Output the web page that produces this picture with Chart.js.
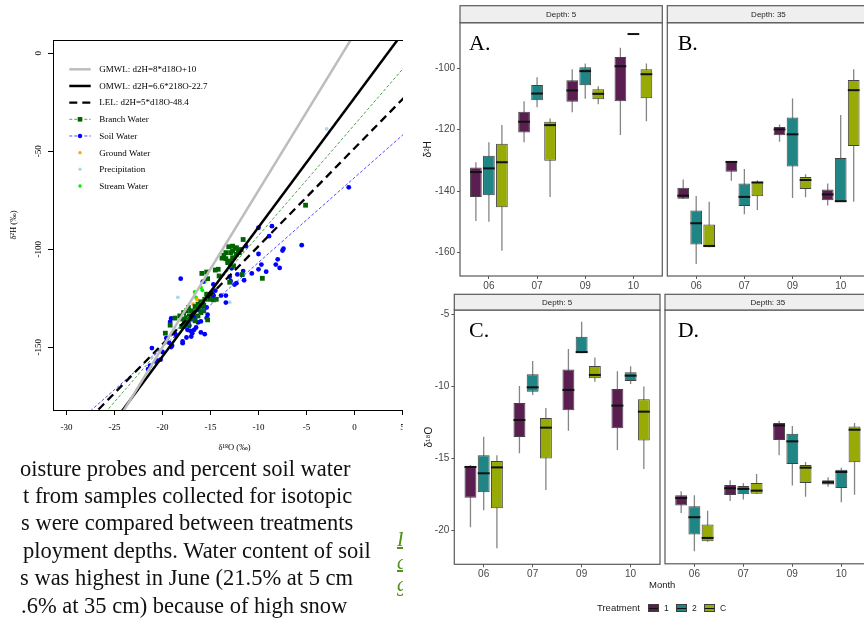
<!DOCTYPE html>
<html><head><meta charset="utf-8">
<script src="https://cdn.jsdelivr.net/npm/chart.js@4.4.1/dist/chart.umd.min.js"></script>
<style>
html,body{margin:0;padding:0;}
body{width:864px;height:618px;overflow:hidden;background:#fff;position:relative;}
.a{position:absolute;}
#scWrap{left:0;top:0;width:403px;height:460px;overflow:hidden;}
.para{font-family:"Liberation Serif","Times New Roman",serif;font-size:22.5px;line-height:22px;color:#111;white-space:pre;}
.plab{font-family:"Liberation Serif","Times New Roman",serif;font-size:22px;line-height:22px;color:#000;}
.lg{font-family:"Liberation Sans",Arial,sans-serif;font-size:9.5px;color:#1a1a1a;line-height:12px;white-space:pre;}
.key{width:11px;height:8px;border:1px solid #3f3f3f;box-sizing:border-box;}
.key i{position:absolute;left:0;right:0;top:2.5px;height:1px;background:#111;}
.grn{font-family:"Liberation Serif",serif;font-style:italic;text-decoration:underline;color:#4f8f1a;font-size:20px;line-height:20px;}
</style></head><body>

<div id="scWrap" class="a"><canvas id="sc" width="420" height="460"></canvas></div>

<div class="a para" style="left:20px;top:457.6px;">oisture probes and percent soil water</div>
<div class="a para" style="left:23px;top:484.9px;">t from samples collected for isotopic</div>
<div class="a para" style="left:21px;top:512.3px;">s were compared between treatments</div>
<div class="a para" style="left:23px;top:539.6px;">ployment depths. Water content of soil</div>
<div class="a para" style="left:20px;top:567px;">s was highest in June (21.5% at 5 cm</div>
<div class="a para" style="left:21px;top:594.5px;">.6% at 35 cm) because of high snow</div>
<div class="a" style="left:397px;top:525px;width:6px;height:75px;overflow:hidden;">
  <div class="a grn" style="left:0;top:4px;">I</div>
  <div class="a grn" style="left:0;top:27px;">c</div>
  <div class="a grn" style="left:0;top:49px;">g</div>
</div>

<canvas id="pA" class="a" style="left:420px;top:0px;" width="244" height="290"></canvas>
<canvas id="pB" class="a" style="left:664px;top:0px;" width="210" height="290"></canvas>
<canvas id="pC" class="a" style="left:420px;top:285px;" width="244" height="333"></canvas>
<canvas id="pD" class="a" style="left:662px;top:285px;" width="212" height="333"></canvas>

<div class="a plab" style="left:469px;top:31.6px;">A.</div>
<div class="a plab" style="left:677.7px;top:31.6px;">B.</div>
<div class="a plab" style="left:469px;top:319px;">C.</div>
<div class="a plab" style="left:677.7px;top:318.5px;">D.</div>

<div class="a lg" style="left:649px;top:579px;">Month</div>
<div class="a lg" style="left:597px;top:602px;">Treatment</div>
<div class="a key" style="left:648px;top:604px;background:#5b1e51;"><i></i></div>
<div class="a lg" style="left:664px;top:602px;font-size:8.5px;">1</div>
<div class="a key" style="left:676px;top:604px;background:#1f8585;"><i></i></div>
<div class="a lg" style="left:692px;top:602px;font-size:8.5px;">2</div>
<div class="a key" style="left:704px;top:604px;background:#97aa05;"><i></i></div>
<div class="a lg" style="left:720px;top:602px;font-size:8.5px;">C</div>

<script>
// ---------------- Scatter (left) data ----------------
const soilPts = [[-5.5,-97.9],[-7.5,-100.6],[-7.4,-99.7],[-8.0,-105.1],[-8.2,-107.8],[-7.8,-109.5],[-9.7,-107.8],[-10.0,-110.2],[-9.2,-111.4],[-10.7,-112.3],[-11.5,-115.8],[-10.0,-102.4],[-8.9,-93.3],[-8.6,-88.2],[-10.0,-89.0],[-11.3,-98.4],[-12.4,-99.5],[-12.5,-118.0],[-12.9,-116.2],[-12.3,-117.3],[-13.0,-114.0],[-12.8,-109.7],[-13.2,-106.5],[-13.9,-123.6],[-13.4,-123.6],[-13.4,-127.2],[-14.5,-121.1],[-14.7,-123.8],[-16.1,-127.7],[-15.8,-129.2],[-15.3,-133.4],[-15.4,-135.1],[-16.0,-136.8],[-16.3,-137.3],[-18.1,-115.0],[-19.1,-135.3],[-19.2,-137.0],[-17.8,-135.6],[-17.7,-139.4],[-17.4,-141.1],[-17.1,-141.6],[-16.9,-142.8],[-17.0,-144.5],[-17.5,-145.0],[-17.9,-147.9],[-17.9,-147.0],[-18.7,-142.9],[-18.9,-142.6],[-18.6,-144.1],[-19.6,-145.3],[-19.3,-147.7],[-19.0,-149.2],[-19.1,-149.9],[-20.0,-152.4],[-21.1,-150.4],[-20.7,-157.3],[-20.5,-156.8],[-20.2,-156.3],[-21.3,-159.4],[-16.0,-142.4],[-15.6,-143.3],[-16.7,-141.1],[-15.8,-116.5],[-14.7,-117.9],[-15.4,-129.7],[-14.7,-123.4],[-16.5,-139.9],[-17.3,-137.3],[-11.6,-111.1],[-12.2,-112.8],[-21.5,-161.1],[-16.6,-134.8],[-0.6,-68.4],[-17.2,-139.0],[-16.2,-131.0]];
const branchPts = [[-11.6,-95.0],[-13.1,-98.7],[-12.7,-98.4],[-12.3,-99.2],[-12.1,-100.4],[-12.7,-100.9],[-12.9,-101.7],[-13.4,-101.7],[-13.6,-103.1],[-13.8,-104.5],[-13.4,-104.8],[-13.0,-106.0],[-12.7,-104.3],[-12.3,-102.6],[-12.0,-101.7],[-11.8,-100.1],[-13.2,-106.8],[-12.9,-107.7],[-12.6,-108.5],[-11.7,-112.9],[-9.6,-114.8],[-13.0,-116.8],[-15.9,-112.3],[-15.4,-111.6],[-14.5,-110.6],[-14.2,-110.2],[-14.1,-113.6],[-15.3,-115.0],[-15.4,-122.9],[-15.3,-124.1],[-15.1,-125.5],[-15.6,-125.5],[-16.0,-126.8],[-15.7,-128.5],[-16.2,-129.7],[-16.5,-130.9],[-16.8,-132.3],[-17.2,-134.0],[-17.5,-134.8],[-17.0,-135.6],[-16.6,-136.5],[-16.3,-134.0],[-16.0,-132.3],[-15.7,-131.4],[-17.3,-129.7],[-18.7,-135.1],[-19.2,-138.7],[-19.7,-142.8],[-18.2,-134.0],[-17.8,-132.3],[-17.9,-135.6],[-17.7,-137.3],[-17.3,-138.7],[-18.0,-139.4],[-15.3,-136.0],[-14.7,-125.8],[-14.4,-125.5],[-5.1,-77.5],[-17.0,-131.4],[-16.6,-129.2],[-16.3,-128.0],[-17.5,-131.4],[-14.9,-122.4],[-17.5,-137.3]];
const groundPts = [[-16.4,-125.5],[-16.8,-128.0]];
const precipPts = [[-2.9,-38.5],[-18.4,-124.5],[-13.0,-127.0]];
const streamPts = [[-15.6,-116.7],[-16.0,-119.5],[-15.85,-120.9],[-16.65,-121.8],[-16.5,-124.6]];
const refLineNames = ["GMWL: d2H=8*d18O+10","OMWL: d2H=6.6*218O-22.7","LEL: d2H=5*d18O-48.4"];
const refSlopes = [8, 6.6, 5];
const refIntercepts = [10, -22.7, -48.4];
const fitNames = ["Branch Water","Soil Water"];
const fitSlopes = [5.66, 4.33];
const fitIntercepts = [-36.4, -63.4];
const pointNames = ["Branch Water","Soil Water","Ground Water","Precipitation","Stream Water"];
const scatterXTicks = [-30,-25,-20,-15,-10,-5,0,5];
const scatterYTicks = [-150,-100,-50,0];

// ---------------- Boxplot data: [min, q1, median, q3, max] per month ----------------
const months = ["06","07","09","10"];
const treatments = ["1","2","C"];
const depthLabels = ["Depth: 5","Depth: 35"];
const h2_d5_t1 = [[-149.8,-141.9,-133.8,-132.3,-130.6],[-124.1,-120.9,-117.4,-114.1,-110.7],[-114.3,-110.9,-107.2,-103.9,-100.3],[-121.7,-110.7,-99.3,-96.3,-93.3]];
const h2_d5_t2 = [[-150.0,-141.4,-132.6,-128.5,-124.1],[-112.7,-110.4,-108.2,-105.4,-102.9],[-109.9,-105.5,-100.9,-99.6,-98.4],[-88.8,-88.8,-88.8,-88.8,-88.8]];
const h2_d5_tC = [[-159.5,-145.3,-130.6,-124.6,-118.5],[-141.9,-130.1,-118.5,-117.4,-116.3],[-111.7,-110.1,-108.3,-106.8,-105.8],[-117.2,-109.7,-101.9,-100.3,-98.4]];
const h2_d35_t1 = [[-142.6,-142.5,-141.5,-138.9,-136.2],[-136.6,-133.7,-130.5,-130.2,-130.2],[-123.9,-121.8,-119.9,-119.1,-118.3],[-144.7,-143.0,-141.1,-139.5,-137.5]];
const h2_d35_t2 = [[-163.8,-157.4,-150.5,-146.3,-141.6],[-147.6,-144.9,-141.9,-137.5,-132.8],[-142.3,-132.0,-121.5,-116.0,-109.8],[-143.6,-143.6,-143.3,-129.2,-115.2]];
const h2_d35_tC = [[-158.3,-158.3,-157.9,-150.9,-143.5],[-146.2,-141.7,-137.2,-137.0,-136.5],[-142.0,-139.3,-136.4,-135.4,-134.5],[-143.5,-125.3,-107.1,-103.8,-100.3]];
const o18_d5_t1 = [[-19.79,-17.73,-15.6,-15.53,-15.46],[-14.65,-13.52,-12.34,-11.16,-9.98],[-13.08,-11.67,-10.25,-8.84,-7.41],[-14.42,-12.92,-11.34,-10.19,-8.96]];
const o18_d5_t2 = [[-18.61,-17.36,-16.04,-14.79,-13.5],[-10.6,-10.37,-10.07,-9.17,-8.24],[-7.71,-7.71,-7.62,-6.55,-5.51],[-9.84,-9.63,-9.26,-9.03,-8.61]];
const o18_d5_tC = [[-21.25,-18.47,-15.63,-15.19,-14.79],[-17.2,-15.02,-12.87,-12.2,-11.5],[-9.68,-9.44,-9.21,-8.59,-8.0],[-15.74,-13.77,-11.76,-10.9,-10.02]];
const o18_d35_t1 = [[-18.82,-18.31,-17.78,-17.59,-17.31],[-17.99,-17.57,-17.1,-16.88,-16.55],[-14.81,-13.75,-12.73,-12.57,-12.41],[-16.99,-16.85,-16.69,-16.55,-16.34]];
const o18_d35_t2 = [[-21.48,-20.32,-19.12,-18.36,-17.59],[-17.89,-17.52,-17.15,-16.94,-16.76],[-16.92,-15.42,-13.84,-13.31,-12.78],[-18.08,-17.08,-15.97,-15.81,-15.67]];
const o18_d35_tC = [[-20.83,-20.79,-20.56,-19.63,-18.66],[-17.48,-17.48,-17.27,-16.74,-16.11],[-17.69,-16.74,-15.67,-15.49,-15.28],[-17.55,-15.3,-13.03,-12.8,-12.57]];
const h2Ticks = [-160,-140,-120,-100];
const o18Ticks = [-20,-15,-10,-5];

const treatColors = ["#5b1e51","#1f8585","#97aa05"];

// ---------------- Scatter chart ----------------
const SX_MIN = -31.4, SX_MAX = 6.4;
const toXY = p => ({x: p[0], y: p[1]});
const lineData = (s, b) => [{x: SX_MIN, y: s*SX_MIN + b}, {x: SX_MAX, y: s*SX_MAX + b}];

const scDatasets = [
  {label: refLineNames[0], type:'line', data: lineData(refSlopes[0], refIntercepts[0]), borderColor:'#bdbdbd', borderWidth:2.5, pointRadius:0, fill:false},
  {label: refLineNames[1], type:'line', data: lineData(refSlopes[1], refIntercepts[1]), borderColor:'#000', borderWidth:2.5, pointRadius:0, fill:false},
  {label: refLineNames[2], type:'line', data: lineData(refSlopes[2], refIntercepts[2]), borderColor:'#000', borderWidth:2.3, borderDash:[8,5], pointRadius:0, fill:false},
  {label: fitNames[0], type:'line', data: lineData(fitSlopes[0], fitIntercepts[0]), borderColor:'#3a9a3a', borderWidth:0.9, borderDash:[3,2], pointRadius:0, fill:false},
  {label: fitNames[1], type:'line', data: lineData(fitSlopes[1], fitIntercepts[1]), borderColor:'#3b3bff', borderWidth:0.9, borderDash:[3,2], pointRadius:0, fill:false},
  {label: pointNames[0], data: branchPts.map(toXY), pointStyle:'rect', pointRadius:3.4, backgroundColor:'#006400', borderWidth:0},
  {label: pointNames[1], data: soilPts.map(toXY), pointStyle:'circle', pointRadius:2.4, backgroundColor:'#0000ff', borderWidth:0},
  {label: pointNames[2], data: groundPts.map(toXY), pointStyle:'circle', pointRadius:1.9, backgroundColor:'#ffa500', borderWidth:0},
  {label: pointNames[3], data: precipPts.map(toXY), pointStyle:'circle', pointRadius:1.9, backgroundColor:'#add8e6', borderWidth:0},
  {label: pointNames[4], data: streamPts.map(toXY), pointStyle:'circle', pointRadius:1.9, backgroundColor:'#00ee00', borderWidth:0}
];
// legend entries: [line dataset index, marker dataset index]
const legendRefs = [[0,null],[1,null],[2,null],[3,5],[4,6],[null,7],[null,8],[null,9]];

const scDeco = {
  id:'scDeco',
  afterDraw(chart){
    const ctx = chart.ctx, a = chart.chartArea, ys = chart.scales.y;
    ctx.save();
    ctx.strokeStyle = '#000'; ctx.lineWidth = 1; ctx.setLineDash([]);
    ctx.beginPath(); ctx.moveTo(a.left, a.top + 0.5); ctx.lineTo(a.right, a.top + 0.5); ctx.lineTo(a.right, a.bottom); ctx.stroke();
    ctx.font = '9px "Liberation Serif", serif'; ctx.fillStyle = '#000';
    ctx.textAlign = 'center'; ctx.textBaseline = 'middle';
    ys.ticks.forEach(t => {
      const y = ys.getPixelForValue(t.value);
      ctx.save(); ctx.translate(39, y); ctx.rotate(-Math.PI/2); ctx.fillText(String(t.value), 0, 0); ctx.restore();
    });
    // legend
    const x0 = 69.3, x1 = 90.7, xm = 80, xt = 99.3;
    ctx.textAlign = 'left';
    legendRefs.forEach((r, i) => {
      const y = 69.3 + i * 16.67;
      const lds = r[0] !== null ? chart.data.datasets[r[0]] : null;
      const mds = r[1] !== null ? chart.data.datasets[r[1]] : null;
      if (lds) {
        ctx.save(); ctx.strokeStyle = lds.borderColor; ctx.lineWidth = lds.borderWidth;
        ctx.setLineDash(lds.borderDash || []);
        ctx.beginPath(); ctx.moveTo(x0, y); ctx.lineTo(x1, y); ctx.stroke(); ctx.restore();
      }
      if (mds) {
        ctx.fillStyle = mds.backgroundColor;
        if (mds.pointStyle === 'rect') { ctx.fillRect(xm - 2.3, y - 2.3, 4.6, 4.6); }
        else { ctx.beginPath(); ctx.arc(xm, y, r[0] !== null ? 2.2 : 1.7, 0, Math.PI*2); ctx.fill(); }
      }
      ctx.fillStyle = '#000';
      ctx.fillText(lds ? lds.label : mds.label, xt, y + 0.5);
    });
    ctx.restore();
  }
};

new Chart(document.getElementById('sc'), {
  type:'scatter',
  data:{datasets: scDatasets},
  options:{
    responsive:false, animation:false, devicePixelRatio:1,
    layout:{padding:{left:0, top:40, right:3, bottom:4}},
    plugins:{legend:{display:false}, tooltip:{enabled:false}},
    scales:{
      x:{type:'linear', min:SX_MIN, max:SX_MAX,
        afterBuildTicks: s => { s.ticks = scatterXTicks.map(v => ({value:v})); },
        afterFit: s => { s.height = 46; },
        ticks:{callback: v => String(v), font:{family:'"Liberation Serif", serif', size:9}, color:'#000', padding:7, maxRotation:0, autoSkip:false},
        grid:{display:true, drawOnChartArea:false, drawTicks:true, tickLength:5, color:'#000'},
        border:{display:true, color:'#000', width:1},
        title:{display:true, text:'δ¹⁸O (‰)', font:{family:'"Liberation Serif", serif', size:8.5}, color:'#000', padding:{top:0, bottom:3}}
      },
      y:{type:'linear', min:-182, max:6.8,
        afterBuildTicks: s => { s.ticks = scatterYTicks.map(v => ({value:v})); },
        afterFit: s => { s.width = 53; },
        ticks:{display:false},
        grid:{display:true, drawOnChartArea:false, drawTicks:true, tickLength:5, color:'#000'},
        border:{display:true, color:'#000', width:1},
        title:{display:true, text:'δ²H (‰)', font:{family:'"Liberation Serif", serif', size:8.5}, color:'#000', padding:{top:9, bottom:0}}
      }
    }
  },
  plugins:[scDeco]
});

// ---------------- Boxplot panels ----------------
const boxPlugin = {
  id:'boxWhisk',
  beforeDatasetsDraw(chart){
    const ctx = chart.ctx, ys = chart.scales.y, a = chart.chartArea;
    ctx.save();
    ctx.beginPath(); ctx.rect(a.left, a.top, a.right - a.left, a.bottom - a.top); ctx.clip();
    ctx.strokeStyle = '#858585'; ctx.lineWidth = 1.3;
    chart.data.datasets.forEach((ds, di) => {
      chart.getDatasetMeta(di).data.forEach((el, i) => {
        const s = ds.stats[i];
        ctx.beginPath();
        ctx.moveTo(el.x, ys.getPixelForValue(s[0]));
        ctx.lineTo(el.x, ys.getPixelForValue(s[4]));
        ctx.stroke();
      });
    });
    ctx.restore();
  },
  afterDatasetsDraw(chart){
    const ctx = chart.ctx, ys = chart.scales.y, a = chart.chartArea;
    ctx.save();
    ctx.strokeStyle = '#111'; ctx.lineWidth = 2;
    chart.data.datasets.forEach((ds, di) => {
      chart.getDatasetMeta(di).data.forEach((el, i) => {
        const y = ys.getPixelForValue(ds.stats[i][2]);
        ctx.beginPath(); ctx.moveTo(el.x - el.width/2, y); ctx.lineTo(el.x + el.width/2, y); ctx.stroke();
      });
    });
    ctx.strokeStyle = '#595959'; ctx.lineWidth = 1.2;
    ctx.strokeRect(a.left, a.top, a.right - a.left, a.bottom - a.top);
    // facet strip
    const st = chart.options.stripTop, sh = a.top - st;
    ctx.fillStyle = '#efefef';
    ctx.fillRect(a.left, st, a.right - a.left, sh);
    ctx.strokeRect(a.left, st, a.right - a.left, sh);
    ctx.fillStyle = '#262626'; ctx.font = '8px "Liberation Sans", Arial, sans-serif';
    ctx.textAlign = 'center'; ctx.textBaseline = 'middle';
    ctx.fillText(chart.options.stripText, (a.left + a.right) / 2, st + sh / 2 + 0.5);
    ctx.restore();
  }
};

function boxPanel(id, sets, stripText, yMin, yMax, yTicks, yTitle, pad, yWidth, xHeight, titlePad, stripTop){
  const showY = yTitle !== null;
  const datasets = sets.map((s, k) => ({
    label: treatments[k],
    data: s.map((v, i) => ({x: i + 1, y: [v[1], v[3]]})),
    stats: s,
    backgroundColor: treatColors[k],
    borderColor: '#434343',
    borderWidth: 1,
    borderSkipped: false,
    categoryPercentage: 0.81,
    barPercentage: 0.9
  }));
  return new Chart(document.getElementById(id), {
    type:'bar',
    data:{datasets},
    options:{
      responsive:false, animation:false, devicePixelRatio:1,
      stripText: stripText, stripTop: stripTop,
      layout:{padding:pad},
      plugins:{legend:{display:false}, tooltip:{enabled:false}},
      scales:{
        x:{type:'linear', min:0.4, max:4.6, offset:false,
          afterBuildTicks: sc => { sc.ticks = months.map((m, i) => ({value: i + 1})); },
          afterFit: sc => { sc.height = xHeight; },
          ticks:{callback: v => months[v - 1], color:'#474747', font:{size:10}, padding:1, maxRotation:0, autoSkip:false},
          grid:{display:true, drawOnChartArea:false, drawTicks:true, tickLength:3, color:'#595959', offset:false},
          border:{display:false}
        },
        y:{type:'linear', min:yMin, max:yMax, display:showY,
          afterBuildTicks: sc => { sc.ticks = yTicks.map(v => ({value: v})); },
          afterFit: sc => { sc.width = yWidth; },
          ticks:{callback: v => String(v), color:'#474747', font:{size:10}, padding:2},
          grid:{display:true, drawOnChartArea:false, drawTicks:true, tickLength:3, color:'#595959'},
          border:{display:false},
          title:{display:showY, text: yTitle || '', color:'#1a1a1a', font:{size:10}, padding:{top:titlePad, bottom:0}}
        }
      }
    },
    plugins:[boxPlugin]
  });
}

Chart.defaults.font.family = '"Liberation Sans", Arial, sans-serif';
const H_MIN = -167.7, H_MAX = -85.1, O_MIN = -22.36, O_MAX = -4.7;
boxPanel('pA', [h2_d5_t1, h2_d5_t2, h2_d5_tC], depthLabels[0], H_MIN, H_MAX, h2Ticks, 'δ²H', {left:0, top:22.7, right:1.7, bottom:0}, 40, 14, 2, 5.7);
boxPanel('pB', [h2_d35_t1, h2_d35_t2, h2_d35_tC], depthLabels[1], H_MIN, H_MAX, h2Ticks, null, {left:3.3, top:22.7, right:4.4, bottom:0}, 0, 14, 0, 5.7);
boxPanel('pC', [o18_d5_t1, o18_d5_t2, o18_d5_tC], depthLabels[0], O_MIN, O_MAX, o18Ticks, 'δ¹⁸O', {left:0, top:25, right:4, bottom:0}, 34.3, 53.7, 3, 9.3);
boxPanel('pD', [o18_d35_t1, o18_d35_t2, o18_d35_tC], depthLabels[1], O_MIN, O_MAX, o18Ticks, null, {left:3, top:25, right:3.3, bottom:0}, 0, 54.2, 0, 9.3);
</script>
</body></html>
